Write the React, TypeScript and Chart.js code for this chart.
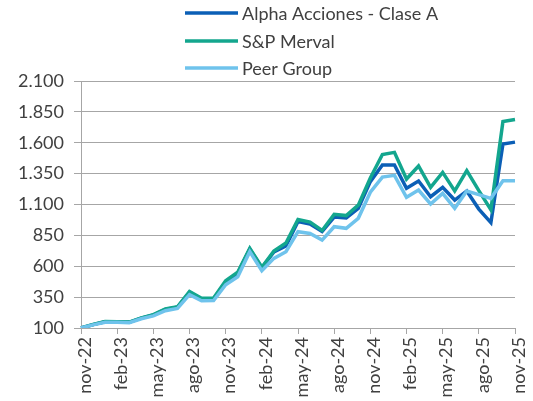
import React, { useEffect, useRef } from 'react';
import { Chart, registerables } from 'chart.js';

Chart.register(...registerables);

const months = [
  'nov-22', 'dic-22', 'ene-23', 'feb-23', 'mar-23', 'abr-23', 'may-23', 'jun-23', 'jul-23', 'ago-23', 'sep-23', 'oct-23',
  'nov-23', 'dic-23', 'ene-24', 'feb-24', 'mar-24', 'abr-24', 'may-24', 'jun-24', 'jul-24', 'ago-24', 'sep-24', 'oct-24',
  'nov-24', 'dic-24', 'ene-25', 'feb-25', 'mar-25', 'abr-25', 'may-25', 'jun-25', 'jul-25', 'ago-25', 'sep-25', 'oct-25',
  'nov-25',
];

const seriesNames = ['Alpha Acciones - Clase A', 'S&P Merval', 'Peer Group'];
const seriesColors = ['#0b5fb6', '#13a68e', '#6fc3ec'];

const alphaValues = [
  100, 127, 150, 149, 146, 180, 205, 250, 268, 390, 335, 337,
  472, 542, 740, 588, 715, 765, 962, 942, 882, 998, 992, 1068,
  1285, 1420, 1420, 1232, 1290, 1163, 1239, 1136, 1209, 1063, 953, 1590,
  1605,
];
const mervalValues = [
  100, 128, 152, 150, 148, 182, 208, 255, 272, 395, 340, 342,
  482, 552, 745, 592, 724, 788, 978, 958, 890, 1020, 1010, 1095,
  1315, 1505, 1522, 1306, 1412, 1239, 1360, 1210, 1374, 1212, 1058, 1772,
  1788,
];
const peerValues = [
  100, 125, 147, 146, 143, 175, 198, 240, 258, 370, 320, 322,
  450, 515, 718, 564, 664, 718, 880, 866, 812, 920, 907, 988,
  1200, 1322, 1336, 1158, 1217, 1104, 1190, 1069, 1209, 1180, 1150, 1293,
  1293,
];

const yMin = 100;
const yMax = 2100;
const yStep = 250;

const fmt = (v: number) => String(Math.round(v)).replace(/\B(?=(\d{3})+(?!\d))/g, '.');

const legendPlugin = {
  id: 'customLegend',
  afterDraw(chart: any) {
    const ctx = chart.ctx;
    const rowsY = [13, 41, 68];
    ctx.save();
    chart.data.datasets.forEach((ds: any, i: number) => {
      const y = rowsY[i];
      ctx.strokeStyle = ds.borderColor;
      ctx.lineWidth = 3.5;
      ctx.lineCap = 'butt';
      ctx.beginPath();
      ctx.moveTo(185, y);
      ctx.lineTo(238, y);
      ctx.stroke();
      ctx.fillStyle = '#404040';
      ctx.font = '18px Lato';
      ctx.textBaseline = 'middle';
      ctx.textAlign = 'left';
      ctx.fillText(ds.label, 242, y + 1);
    });
    ctx.restore();
  },
};

export default function App() {
  const canvasRef = useRef<HTMLCanvasElement | null>(null);

  useEffect(() => {
    document.body.style.margin = '0';
    const canvas = canvasRef.current;
    if (!canvas) return;
    const values = [alphaValues, mervalValues, peerValues];
    const chart = new Chart(canvas, {
      type: 'line',
      data: {
        labels: months,
        datasets: values.map((vals, i) => ({
          label: seriesNames[i],
          data: vals,
          borderColor: seriesColors[i],
          backgroundColor: seriesColors[i],
          borderWidth: 3.5,
          pointRadius: 0,
          tension: 0,
          fill: false,
          order: 2 - i,
        })),
      },
      options: {
        animation: false,
        responsive: false,
        maintainAspectRatio: false,
        devicePixelRatio: 1,
        layout: { padding: { top: 81, right: 18, left: 0, bottom: 0 } },
        plugins: {
          legend: { display: false },
          tooltip: { enabled: false },
          title: { display: false },
        },
        scales: {
          x: {
            type: 'category',
            offset: false,
            grid: {
              display: true,
              drawOnChartArea: false,
              drawTicks: true,
              tickLength: 6,
              color: '#a6a6a6',
              lineWidth: 1,
            },
            border: { display: true, color: '#a6a6a6', width: 1 },
            ticks: {
              autoSkip: false,
              maxRotation: 90,
              minRotation: 90,
              padding: 3,
              labelOffset: 4,
              color: '#404040',
              font: { family: 'Lato', size: 18 },
              callback: (_v: any, idx: number) => (idx % 3 === 0 ? months[idx] : null),
            },
            afterFit: (scale: any) => {
              scale.height = 401 - 328;
              scale.paddingLeft = 0;
              scale.paddingRight = 0;
            },
          },
          y: {
            min: yMin,
            max: yMax,
            grid: {
              display: true,
              drawOnChartArea: true,
              drawTicks: true,
              tickLength: 7,
              color: '#a6a6a6',
              lineWidth: 1,
            },
            border: { display: true, color: '#a6a6a6', width: 1 },
            ticks: {
              stepSize: yStep,
              padding: 10,
              color: '#404040',
              font: { family: 'Lato', size: 18 },
              callback: (v: any) => fmt(Number(v)),
            },
            afterFit: (scale: any) => {
              scale.width = 81;
            },
          },
        },
      },
      plugins: [legendPlugin],
    } as any);
    return () => chart.destroy();
  }, []);

  return (
    <div style={{ width: 533, height: 401, position: 'relative', background: '#fff' }}>
      <canvas ref={canvasRef} width={533} height={401} style={{ width: 533, height: 401, display: 'block' }} />
    </div>
  );
}
